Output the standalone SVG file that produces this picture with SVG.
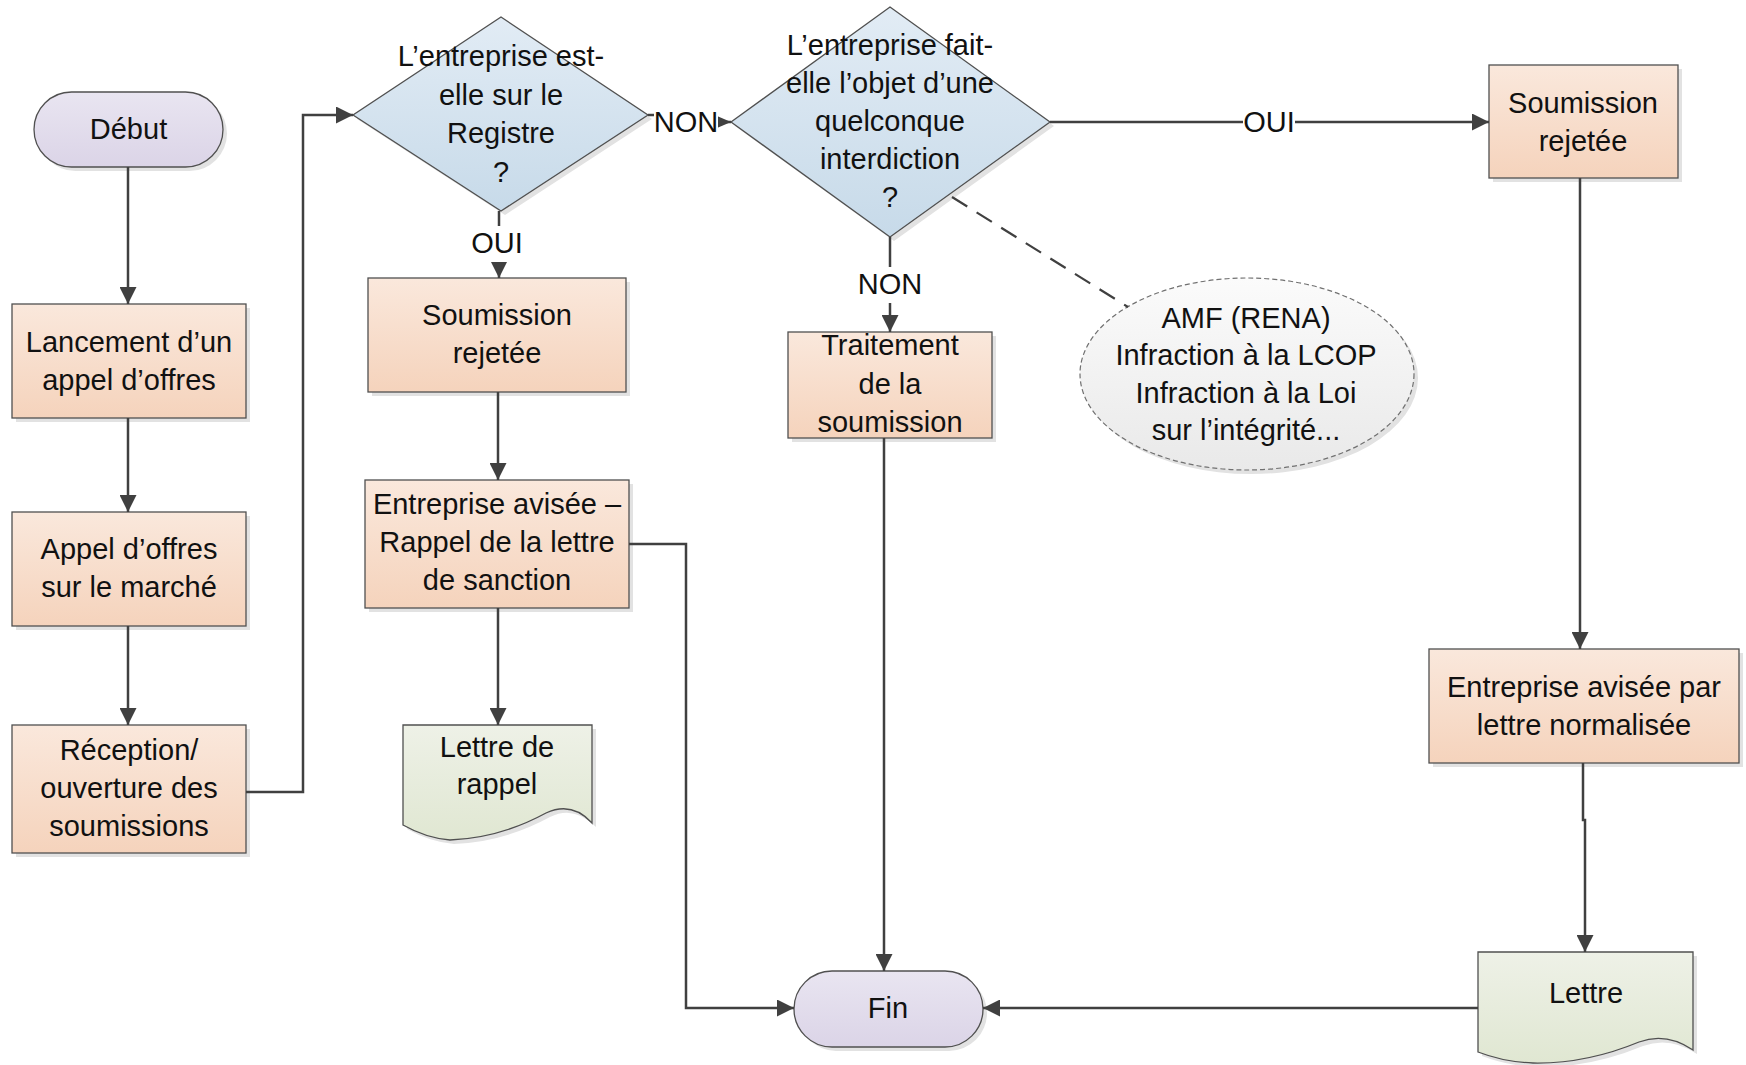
<svg xmlns="http://www.w3.org/2000/svg" width="1746" height="1065" viewBox="0 0 1746 1065">
  <defs>
    <linearGradient id="gProc" x1="0" y1="0" x2="0" y2="1">
      <stop offset="0" stop-color="#fae8dc"/>
      <stop offset="1" stop-color="#f5d3bc"/>
    </linearGradient>
    <linearGradient id="gDec" x1="0" y1="0" x2="0" y2="1">
      <stop offset="0" stop-color="#e2ecf5"/>
      <stop offset="1" stop-color="#c7dae9"/>
    </linearGradient>
    <linearGradient id="gTerm" x1="0" y1="0" x2="0" y2="1">
      <stop offset="0" stop-color="#e9e5f1"/>
      <stop offset="1" stop-color="#dbd4e7"/>
    </linearGradient>
    <linearGradient id="gDoc" x1="0" y1="0" x2="0" y2="1">
      <stop offset="0" stop-color="#eef1e7"/>
      <stop offset="1" stop-color="#e0e7d2"/>
    </linearGradient>
    <linearGradient id="gNote" x1="0" y1="0" x2="0" y2="1">
      <stop offset="0" stop-color="#fbfbfb"/>
      <stop offset="1" stop-color="#e9e9e9"/>
    </linearGradient>
    <marker id="arrow" viewBox="0 0 17 17" refX="17" refY="8.5" markerWidth="17" markerHeight="17" markerUnits="userSpaceOnUse" orient="auto">
      <path d="M0,0 L17,8.5 L0,17 z" fill="#404040"/>
    </marker>
    <marker id="arrowSmall" viewBox="0 0 14 12" refX="14" refY="6" markerWidth="14" markerHeight="12" markerUnits="userSpaceOnUse" orient="auto">
      <path d="M0,0 L14,6 L0,12 z" fill="#404040"/>
    </marker>
  </defs>
  <style>
    text { font-family: "Liberation Sans", Arial, sans-serif; font-size: 29px; fill: #111; text-anchor: middle; }
    .shadow { fill: #e2e2e2; stroke: none; }
    .proc { fill: url(#gProc); stroke: #505050; stroke-width: 1.3; }
    .dec { fill: url(#gDec); stroke: #505050; stroke-width: 1.3; }
    .term { fill: url(#gTerm); stroke: #505050; stroke-width: 1.3; }
    .doc { fill: url(#gDoc); stroke: #505050; stroke-width: 1.3; }
    .note { fill: url(#gNote); stroke: #707070; stroke-width: 1.2; stroke-dasharray: 5 3; }
    .conn { fill: none; stroke: #404040; stroke-width: 2.5; }
    .dash { fill: none; stroke: #404040; stroke-width: 2.2; stroke-dasharray: 18 11; }
    .lblbg { fill: #ffffff; stroke: none; }
  </style>

  <rect width="1746" height="1065" fill="#ffffff"/>

  <!-- Start terminator -->
  <g id="debut">
    <rect class="shadow" x="38" y="96" width="189" height="75" rx="37.5"/>
    <rect class="term" x="34" y="92" width="189" height="75" rx="37.5"/>
    <text x="128.5" y="139">Début</text>
  </g>

  <g id="lancement">
    <rect class="shadow" x="16" y="308" width="234" height="114"/>
    <rect class="proc" x="12" y="304" width="234" height="114"/>
    <text x="129" y="352">Lancement d’un<tspan x="129" dy="38">appel d’offres</tspan></text>
  </g>

  <g id="appel">
    <rect class="shadow" x="16" y="516" width="234" height="114"/>
    <rect class="proc" x="12" y="512" width="234" height="114"/>
    <text x="129" y="559">Appel d’offres<tspan x="129" dy="38">sur le marché</tspan></text>
  </g>

  <g id="reception">
    <rect class="shadow" x="16" y="729" width="234" height="128"/>
    <rect class="proc" x="12" y="725" width="234" height="128"/>
    <text x="129" y="760">Réception/<tspan x="129" dy="38">ouverture des</tspan><tspan x="129" dy="38">soumissions</tspan></text>
  </g>

  <!-- Decision: register check -->
  <g id="registre">
    <polygon class="shadow" points="505,21 652,119 505,215 357,119"/>
    <polygon class="dec" points="501,17 648,115 501,211 353,115"/>
    <text x="501" y="66">L’entreprise est-<tspan x="501" dy="38.7">elle sur le</tspan><tspan x="501" dy="38.7">Registre</tspan><tspan x="501" dy="38.7">?</tspan></text>
  </g>

  <!-- Decision: prohibition check -->
  <g id="interdiction">
    <polygon class="shadow" points="894,11 1054,126 894,241 735,126"/>
    <polygon class="dec" points="890,7 1050,122 890,237 731,122"/>
    <text x="890" y="55">L’entreprise fait-<tspan x="890" dy="38">elle l’objet d’une</tspan><tspan x="890" dy="38">quelconque</tspan><tspan x="890" dy="38">interdiction</tspan><tspan x="890" dy="38">?</tspan></text>
  </g>

  <g id="rejet1">
    <rect class="shadow" x="372" y="282" width="258" height="114"/>
    <rect class="proc" x="368" y="278" width="258" height="114"/>
    <text x="497" y="325">Soumission<tspan x="497" dy="38">rejetée</tspan></text>
  </g>

  <g id="avisee-rappel">
    <rect class="shadow" x="369" y="484" width="264" height="128"/>
    <rect class="proc" x="365" y="480" width="264" height="128"/>
    <text x="497" y="514">Entreprise avisée –<tspan x="497" dy="38">Rappel de la lettre</tspan><tspan x="497" dy="38">de sanction</tspan></text>
  </g>

  <g id="lettre-rappel">
    <path class="shadow" d="M407,729 H596 V827 Q574,805 550,817 Q504,842 454,844 Q430,842 407,829 Z"/>
    <path class="doc" d="M403,725 H592 V823 Q572,801 546,813 Q500,838 450,840 Q426,838 403,825 Z"/>
    <text x="497" y="757">Lettre de<tspan x="497" dy="37">rappel</tspan></text>
  </g>

  <g id="traitement">
    <rect class="shadow" x="792" y="336" width="204" height="106"/>
    <rect class="proc" x="788" y="332" width="204" height="106"/>
    <text x="890" y="355">Traitement<tspan x="890" dy="38.5">de la</tspan><tspan x="890" dy="38.5">soumission</tspan></text>
  </g>

  <g id="amf">
    <ellipse class="shadow" cx="1251" cy="378" rx="167" ry="96"/>
    <ellipse class="note" cx="1247" cy="374" rx="167" ry="96"/>
    <text x="1246" y="328">AMF (RENA)<tspan x="1246" dy="37.3">Infraction à la LCOP</tspan><tspan x="1246" dy="37.3">Infraction à la Loi</tspan><tspan x="1246" dy="37.3">sur l’intégrité...</tspan></text>
  </g>

  <g id="rejet2">
    <rect class="shadow" x="1493" y="69" width="189" height="113"/>
    <rect class="proc" x="1489" y="65" width="189" height="113"/>
    <text x="1583" y="113">Soumission<tspan x="1583" dy="38">rejetée</tspan></text>
  </g>

  <g id="avisee-lettre">
    <rect class="shadow" x="1433" y="653" width="310" height="114"/>
    <rect class="proc" x="1429" y="649" width="310" height="114"/>
    <text x="1584" y="697">Entreprise avisée par<tspan x="1584" dy="38">lettre normalisée</tspan></text>
  </g>

  <g id="lettre">
    <path class="shadow" d="M1482,956 H1697 V1054 Q1670,1036 1643,1046 Q1590,1068 1537,1067 Q1508,1066 1482,1056 Z"/>
    <path class="doc" d="M1478,952 H1693 V1050 Q1666,1032 1639,1042 Q1586,1064 1533,1063 Q1504,1062 1478,1052 Z"/>
    <text x="1586" y="1003">Lettre</text>
  </g>

  <!-- End terminator -->
  <g id="fin">
    <rect class="shadow" x="798" y="975" width="189" height="76" rx="38"/>
    <rect class="term" x="794" y="971" width="189" height="76" rx="38"/>
    <text x="888" y="1018">Fin</text>
  </g>

  <!-- Connectors -->
  <g id="connectors">
    <path class="conn" d="M128,167 V304" marker-end="url(#arrow)"/>
    <path class="conn" d="M128,418 V512" marker-end="url(#arrow)"/>
    <path class="conn" d="M128,626 V725" marker-end="url(#arrow)"/>
    <path class="conn" d="M246,792 H303 V115 H353" marker-end="url(#arrow)"/>
    <path class="conn" d="M648,115 H686 V122 H731" marker-end="url(#arrowSmall)"/>
    <path class="conn" d="M499,211 V278" marker-end="url(#arrow)"/>
    <path class="conn" d="M498,392 V480" marker-end="url(#arrow)"/>
    <path class="conn" d="M498,608 V725" marker-end="url(#arrow)"/>
    <path class="conn" d="M629,544 H686 V1008 H794" marker-end="url(#arrow)"/>
    <path class="conn" d="M890,237 V332" marker-end="url(#arrow)"/>
    <path class="conn" d="M884,438 V971" marker-end="url(#arrow)"/>
    <path class="conn" d="M1050,122 H1489" marker-end="url(#arrow)"/>
    <path class="dash" d="M952,197 L1128,307"/>
    <path class="conn" d="M1580,178 V649" marker-end="url(#arrow)"/>
    <path class="conn" d="M1583,763 V820 H1585 V952" marker-end="url(#arrow)"/>
    <path class="conn" d="M1478,1008 H983" marker-end="url(#arrow)"/>

    <!-- connector labels -->
    <rect class="lblbg" x="654" y="100" width="64" height="36"/>
    <text x="686" y="132">NON</text>
    <rect class="lblbg" x="472" y="226" width="52" height="36"/>
    <text x="497" y="253">OUI</text>
    <rect class="lblbg" x="857" y="267" width="66" height="36"/>
    <text x="890" y="294">NON</text>
    <rect class="lblbg" x="1243" y="105" width="52" height="34"/>
    <text x="1269" y="132">OUI</text>
  </g>
</svg>
